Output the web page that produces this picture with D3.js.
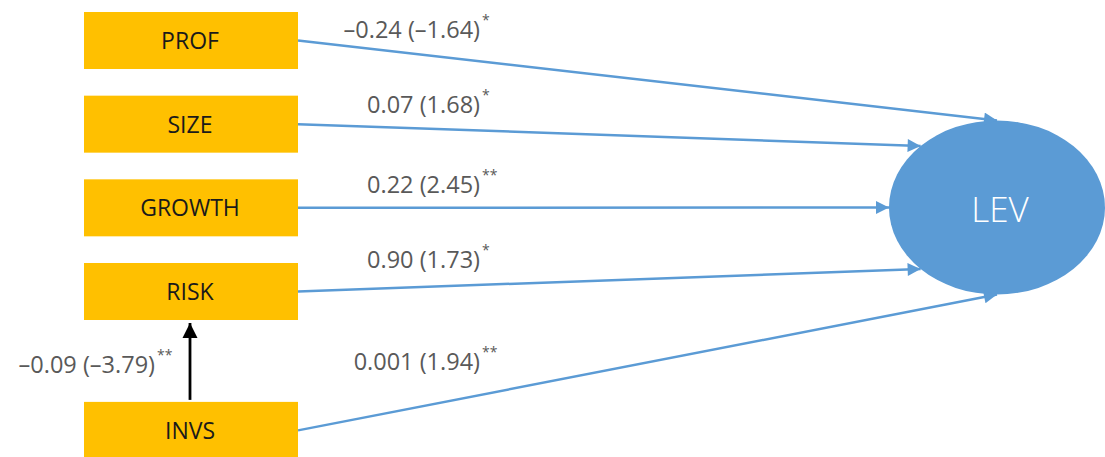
<!DOCTYPE html>
<html><head><meta charset="utf-8">
<script src="https://cdn.jsdelivr.net/npm/d3@7"></script>
<style>
html,body{margin:0;padding:0;background:#fff;}
svg{display:block;}
</style></head>
<body>
<svg id="chart" width="1105" height="457"></svg>
<script>
// ---- data ----
const predictors = ["PROF", "SIZE", "GROWTH", "RISK", "INVS"];
const coefficients = ["\u20130.24", "0.07", "0.22", "0.90", "0.001"];
const tStats = ["\u20131.64", "1.68", "2.45", "1.73", "1.94"];
const stars = ["*", "*", "**", "*", "**"];
const rowSlots = [0, 1, 2, 3, 4.66];
const targetAngles = [-90, -135, 180, 135, 90];
const outcome = "LEV";
const mediation = {from: "INVS", to: "RISK", coef: "\u20130.09", t: "\u20133.79", stars: "**"};

// ---- layout ----
const svg = d3.select("#chart");
const boxX = 84, boxW = 214, boxH = 57;
const yRow = d3.scaleLinear().domain([0, 3]).range([40.5, 291.5]);
const ell = {cx: 997, cy: 207.5, rx: 108, ry: 87};
const blue = "#5B9BD5", orange = "#FFC000", grey = "#595959";
const font = "'Open Sans', sans-serif";

const defs = svg.append("defs");
defs.append("marker").attr("id", "ahBlue")
  .attr("viewBox", "0 0 10 10").attr("refX", 10).attr("refY", 5)
  .attr("markerWidth", 6).attr("markerHeight", 5.2).attr("markerUnits", "strokeWidth")
  .attr("orient", "auto")
  .append("path").attr("d", "M0,0 L10,5 L0,10 Z").attr("fill", blue);
defs.append("marker").attr("id", "ahBlack")
  .attr("viewBox", "0 0 10 10").attr("refX", 10).attr("refY", 5)
  .attr("markerWidth", 5.4).attr("markerHeight", 5.4).attr("markerUnits", "strokeWidth")
  .attr("orient", "auto")
  .append("path").attr("d", "M0,0 L10,5 L0,10 Z").attr("fill", "#000");

const rows = predictors.map((p, i) => ({
  name: p, coef: coefficients[i], t: tStats[i], stars: stars[i],
  y: yRow(rowSlots[i]), angle: targetAngles[i]
}));

// ellipse
svg.append("ellipse")
  .attr("cx", ell.cx).attr("cy", ell.cy).attr("rx", ell.rx).attr("ry", ell.ry)
  .attr("fill", blue);
svg.append("text")
  .attr("x", ell.cx + 3).attr("y", ell.cy + 1)
  .attr("text-anchor", "middle").attr("dominant-baseline", "central")
  .attr("font-family", font).attr("font-weight", 300)
  .attr("font-size", 35).attr("fill", "#fff").text(outcome);

// blue arrows
svg.selectAll("line.path").data(rows).join("line").attr("class", "path")
  .attr("x1", boxX + boxW).attr("y1", d => d.y)
  .attr("x2", d => ell.cx + ell.rx * Math.cos(d.angle * Math.PI / 180))
  .attr("y2", d => ell.cy + ell.ry * Math.sin(d.angle * Math.PI / 180))
  .attr("stroke", blue).attr("stroke-width", 2.5)
  .attr("marker-end", "url(#ahBlue)");

// boxes
const g = svg.selectAll("g.node").data(rows).join("g").attr("class", "node");
g.append("rect")
  .attr("x", boxX).attr("y", d => d.y - boxH / 2)
  .attr("width", boxW).attr("height", boxH).attr("fill", orange);
g.append("text")
  .attr("x", boxX + boxW / 2 - 1).attr("y", d => d.y + 8.5)
  .attr("text-anchor", "middle")
  .attr("font-family", font).attr("font-size", 23)
  .attr("fill", "#1a1a1a").text(d => d.name);

// coefficient labels
const labelRight = 480;
const labelBase = [38, 113, 193, 268, 370];
const lab = svg.selectAll("g.lab").data(rows).join("g").attr("class", "lab");
lab.append("text")
  .attr("x", labelRight).attr("y", (d, i) => labelBase[i])
  .attr("text-anchor", "end")
  .attr("font-family", font).attr("font-size", 23.5)
  .attr("fill", grey).text(d => `${d.coef} (${d.t})`);
lab.append("text")
  .attr("x", labelRight + 2).attr("y", (d, i) => labelBase[i] - 13)
  .attr("font-family", font).attr("font-size", 14)
  .attr("fill", grey).text(d => d.stars);

// mediation arrow INVS -> RISK
const src = rows.find(r => r.name === mediation.from);
const dst = rows.find(r => r.name === mediation.to);
const mx = 190;
svg.append("line")
  .attr("x1", mx).attr("y1", src.y - boxH / 2 - 2)
  .attr("x2", mx).attr("y2", dst.y + boxH / 2 + 3)
  .attr("stroke", "#000").attr("stroke-width", 2.8)
  .attr("marker-end", "url(#ahBlack)");
svg.append("text")
  .attr("x", 155).attr("y", 373).attr("text-anchor", "end")
  .attr("font-family", font).attr("font-size", 23.5)
  .attr("fill", grey).text(`${mediation.coef} (${mediation.t})`);
svg.append("text")
  .attr("x", 157).attr("y", 360)
  .attr("font-family", font).attr("font-size", 14)
  .attr("fill", grey).text(mediation.stars);
</script>
</body></html>
